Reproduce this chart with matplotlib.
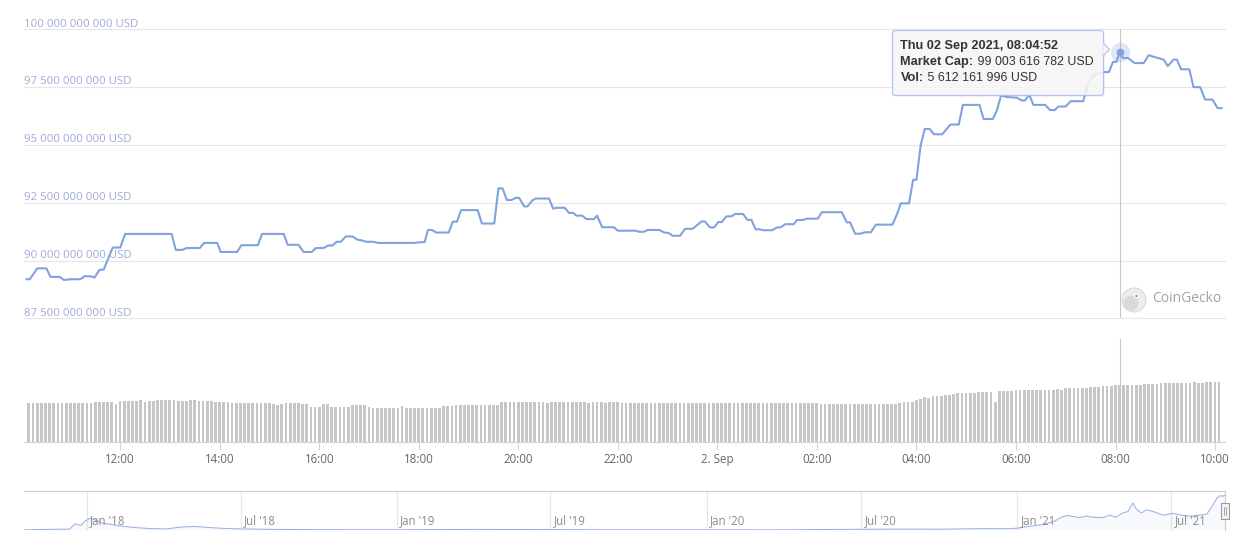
import matplotlib
matplotlib.use("Agg")
import matplotlib.pyplot as plt
import matplotlib.dates as mdates
from matplotlib.patches import FancyBboxPatch, Polygon, Rectangle, Circle
from datetime import datetime, timedelta
import pandas as pd

plt.rcParams['font.family'] = ['Open Sans', 'DejaVu Sans']

# market cap line (billions USD), "day HH:MM" in Sep 2021
cap_times = [
    "1 10:07", "1 10:11", "1 10:20", "1 10:31", "1 10:36", "1 10:47", "1 10:52", "1 11:01",
    "1 11:12", "1 11:17", "1 11:24", "1 11:29", "1 11:35", "1 11:40", "1 11:51", "1 12:00",
    "1 12:06", "1 13:02", "1 13:07", "1 13:15", "1 13:20", "1 13:36", "1 13:41", "1 13:57",
    "1 14:01", "1 14:21", "1 14:26", "1 14:46", "1 14:51", "1 15:17", "1 15:22", "1 15:35",
    "1 15:41", "1 15:51", "1 15:56", "1 16:05", "1 16:11", "1 16:16", "1 16:21", "1 16:26",
    "1 16:32", "1 16:40", "1 16:46", "1 16:51", "1 16:57", "1 17:05", "1 17:11", "1 17:54",
    "1 18:02", "1 18:07", "1 18:11", "1 18:16", "1 18:21", "1 18:36", "1 18:41", "1 18:46",
    "1 18:51", "1 19:11", "1 19:16", "1 19:31", "1 19:36", "1 19:41", "1 19:46", "1 19:52",
    "1 19:57", "1 20:01", "1 20:07", "1 20:11", "1 20:17", "1 20:21", "1 20:37", "1 20:42",
    "1 20:46", "1 20:56", "1 21:01", "1 21:06", "1 21:10", "1 21:17", "1 21:22", "1 21:31",
    "1 21:35", "1 21:41", "1 21:55", "1 22:00", "1 22:21", "1 22:26", "1 22:31", "1 22:36",
    "1 22:50", "1 22:56", "1 23:01", "1 23:06", "1 23:15", "1 23:21", "1 23:30", "1 23:41",
    "1 23:45", "1 23:51", "1 23:56", "2 00:01", "2 00:05", "2 00:11", "2 00:17", "2 00:21",
    "2 00:31", "2 00:36", "2 00:41", "2 00:46", "2 00:51", "2 00:55", "2 01:06", "2 01:12",
    "2 01:16", "2 01:22", "2 01:32", "2 01:36", "2 01:43", "2 01:48", "2 02:01", "2 02:06",
    "2 02:30", "2 02:36", "2 02:40", "2 02:46", "2 02:52", "2 02:58", "2 03:05", "2 03:11",
    "2 03:31", "2 03:37", "2 03:41", "2 03:51", "2 03:56", "2 04:00", "2 04:05", "2 04:10",
    "2 04:16", "2 04:21", "2 04:31", "2 04:41", "2 04:51", "2 04:56", "2 05:16", "2 05:21",
    "2 05:32", "2 05:37", "2 05:42", "2 05:49", "2 06:01", "2 06:07", "2 06:11", "2 06:16",
    "2 06:21", "2 06:35", "2 06:41", "2 06:47", "2 06:51", "2 07:00", "2 07:06", "2 07:21",
    "2 07:27", "2 07:33", "2 07:45", "2 07:52", "2 07:57", "2 08:01", "2 08:04:52", "2 08:09",
    "2 08:15", "2 08:23", "2 08:34", "2 08:40", "2 08:47", "2 08:58", "2 09:03", "2 09:10",
    "2 09:14", "2 09:19", "2 09:29", "2 09:34", "2 09:42", "2 09:48", "2 09:57", "2 10:03",
    "2 10:08",
]
cap_values = [
    89.19, 89.19, 89.66, 89.66, 89.29, 89.29, 89.16, 89.19,
    89.19, 89.32, 89.32, 89.26, 89.60, 89.60, 90.56, 90.56,
    91.15, 91.15, 90.46, 90.46, 90.54, 90.54, 90.76, 90.76,
    90.37, 90.37, 90.66, 90.66, 91.15, 91.15, 90.68, 90.68,
    90.37, 90.37, 90.54, 90.54, 90.65, 90.65, 90.81, 90.81,
    91.04, 91.04, 90.90, 90.87, 90.81, 90.81, 90.76, 90.76,
    90.79, 90.79, 91.32, 91.32, 91.21, 91.21, 91.68, 91.68,
    92.18, 92.18, 91.60, 91.60, 93.12, 93.12, 92.62, 92.62,
    92.71, 92.71, 92.34, 92.34, 92.60, 92.68, 92.68, 92.24,
    92.28, 92.28, 92.06, 92.06, 91.94, 91.94, 91.79, 91.79,
    91.94, 91.44, 91.44, 91.29, 91.29, 91.24, 91.24, 91.32,
    91.32, 91.21, 91.19, 91.07, 91.07, 91.37, 91.37, 91.69,
    91.69, 91.43, 91.43, 91.66, 91.66, 91.91, 91.91, 92.01,
    92.01, 91.76, 91.76, 91.35, 91.35, 91.31, 91.31, 91.43,
    91.43, 91.57, 91.57, 91.75, 91.75, 91.81, 91.81, 92.09,
    92.09, 91.65, 91.65, 91.16, 91.16, 91.22, 91.22, 91.55,
    91.55, 92.04, 92.47, 92.47, 93.49, 93.49, 94.97, 95.69,
    95.69, 95.46, 95.46, 95.88, 95.88, 96.73, 96.73, 96.12,
    96.12, 96.49, 97.14, 97.07, 97.04, 96.92, 96.92, 97.17,
    96.73, 96.73, 96.51, 96.51, 96.66, 96.66, 96.89, 96.89,
    97.64, 98.01, 98.15, 98.15, 98.59, 98.59, 99.0036, 98.76,
    98.76, 98.54, 98.54, 98.88, 98.80, 98.69, 98.41, 98.69,
    98.69, 98.27, 98.27, 97.50, 97.50, 96.96, 96.96, 96.59,
    96.59,
]

# volume bars (billions USD), one every 5 minutes
vol_start = "2021-09-01 10:09:52"
vol_values = [
    3.84, 3.84, 3.84, 3.84, 3.84, 3.84, 3.84, 3.84, 3.84, 3.84, 3.84, 3.84,
    3.84, 3.84, 3.84, 3.84, 3.91, 3.91, 3.91, 3.91, 3.91, 3.74, 4.04, 4.04,
    4.04, 4.04, 4.04, 4.14, 3.97, 4.04, 4.04, 4.14, 4.10, 4.14, 4.14, 4.14,
    4.04, 4.04, 4.04, 4.14, 4.10, 4.04, 4.04, 4.04, 4.04, 3.94, 3.94, 3.94,
    3.94, 3.84, 3.84, 3.84, 3.84, 3.84, 3.84, 3.84, 3.84, 3.84, 3.84, 3.74,
    3.67, 3.74, 3.84, 3.84, 3.84, 3.84, 3.77, 3.70, 3.45, 3.45, 3.45, 3.74,
    3.74, 3.45, 3.45, 3.45, 3.45, 3.45, 3.64, 3.64, 3.64, 3.64, 3.48, 3.35,
    3.35, 3.35, 3.35, 3.35, 3.35, 3.35, 3.55, 3.35, 3.35, 3.35, 3.35, 3.35,
    3.35, 3.35, 3.35, 3.35, 3.58, 3.58, 3.58, 3.68, 3.68, 3.68, 3.68, 3.68,
    3.68, 3.68, 3.68, 3.68, 3.68, 3.68, 3.90, 3.90, 3.90, 3.90, 3.90, 3.90,
    3.90, 3.90, 3.92, 3.90, 3.90, 3.88, 3.90, 3.90, 3.92, 3.90, 3.90, 3.90,
    3.90, 3.90, 3.90, 3.88, 3.90, 3.90, 3.90, 3.88, 3.90, 3.90, 3.90, 3.88,
    3.88, 3.86, 3.88, 3.88, 3.82, 3.86, 3.88, 3.88, 3.82, 3.80, 3.84, 3.86,
    3.80, 3.84, 3.86, 3.84, 3.80, 3.82, 3.80, 3.80, 3.84, 3.84, 3.80, 3.80,
    3.80, 3.82, 3.80, 3.80, 3.82, 3.80, 3.80, 3.80, 3.82, 3.80, 3.80, 3.80,
    3.80, 3.80, 3.80, 3.80, 3.80, 3.80, 3.80, 3.80, 3.80, 3.80, 3.80, 3.74,
    3.74, 3.74, 3.74, 3.74, 3.74, 3.74, 3.74, 3.74, 3.74, 3.74, 3.74, 3.74,
    3.74, 3.74, 3.74, 3.74, 3.74, 3.74, 3.84, 3.90, 3.97, 3.97, 4.14, 4.23,
    4.40, 4.30, 4.53, 4.53, 4.53, 4.63, 4.63, 4.76, 4.82, 4.82, 4.82, 4.82,
    4.82, 4.92, 4.92, 4.92, 4.92, 3.97, 5.02, 5.02, 5.02, 5.02, 5.12, 5.12,
    5.12, 5.12, 5.12, 5.12, 5.12, 5.12, 5.12, 5.12, 5.18, 5.12, 5.28, 5.28,
    5.28, 5.28, 5.28, 5.28, 5.38, 5.38, 5.45, 5.51, 5.51, 5.51, 5.61, 5.61,
    5.61, 5.61, 5.61, 5.61, 5.61, 5.71, 5.71, 5.71, 5.71, 5.81, 5.81, 5.81,
    5.81, 5.81, 5.81, 5.81, 5.81, 5.91, 5.81, 5.81, 5.91, 5.91, 5.91, 5.91,
]

# navigator: full market cap history (billions USD)
nav_dates = [
    "2017-10-19", "2017-11-27", "2017-12-12", "2017-12-18", "2017-12-25", "2017-12-30",
    "2018-01-05", "2018-01-10", "2018-01-19", "2018-02-07", "2018-02-26", "2018-03-16",
    "2018-04-04", "2018-04-23", "2018-05-08", "2018-05-22", "2018-06-09", "2018-07-03",
    "2018-08-13", "2018-10-01", "2019-01-01", "2019-04-01", "2019-06-25", "2019-10-01",
    "2020-01-01", "2020-03-15", "2020-06-01", "2020-08-15", "2020-10-01", "2020-11-25",
    "2020-12-20", "2021-01-01", "2021-01-13", "2021-01-28", "2021-02-13", "2021-02-21",
    "2021-02-28", "2021-03-08", "2021-03-15", "2021-03-23", "2021-03-31", "2021-04-12",
    "2021-04-20", "2021-04-27", "2021-05-05", "2021-05-11", "2021-05-17", "2021-05-21",
    "2021-05-27", "2021-06-02", "2021-06-10", "2021-06-18", "2021-06-23", "2021-07-03",
    "2021-07-15", "2021-07-23", "2021-08-04", "2021-08-12", "2021-08-16", "2021-08-20",
    "2021-08-24", "2021-08-28", "2021-08-31", "2021-09-02",
]
nav_values = [
    0.6, 2.0, 2.5, 17, 13, 25,
    33, 29, 20, 12, 7, 4,
    3, 8.5, 10, 7.5, 4.7, 3,
    1.5, 1.0, 0.8, 1.5, 1.2, 0.6,
    0.8, 0.4, 1.5, 2.5, 2.2, 4.0,
    3.5, 5, 10, 14, 24, 35,
    41, 38, 35, 39, 36, 35,
    42, 36, 48, 52, 76, 59,
    48, 57, 52, 45, 42, 47,
    41, 39, 42, 45, 59, 74,
    90, 97, 95, 99,
]

cap_ticks = [87.5, 90, 92.5, 95, 97.5, 100]
hour_ticks = ["1 12:00", "1 14:00", "1 16:00", "1 18:00", "1 20:00", "1 22:00",
              "2 00:00", "2 02:00", "2 04:00", "2 06:00", "2 08:00", "2 10:00"]

tip_time = "2 08:04:52"
tip_cap = 99003616782
tip_vol = 5612161996

W, H = 1240, 550
line_color = "#80a3dd"


def when(s):
    d, hm = s.split()
    return pd.Timestamp(f"2021-09-0{d} {hm}").to_pydatetime()


def rect(x0, y0, x1, y1):
    return [x0 / W, 1 - y1 / H, (x1 - x0) / W, (y1 - y0) / H]


def usd(v):
    return f"{v:,.0f}".replace(",", " ") + " USD"


cap_dt = [when(s) for s in cap_times]
vol_dt = [pd.Timestamp(vol_start).to_pydatetime() + timedelta(minutes=5 * i) for i in range(len(vol_values))]
x_left, x_right = when("1 10:04"), when("2 10:12")

fig = plt.figure(figsize=(W / 100, H / 100), dpi=100)

# main pane
ax = fig.add_axes(rect(24, 29.3, 1225, 318.3))
ax.plot(cap_dt, cap_values, color=line_color, lw=1.5, solid_joinstyle="round", zorder=3)
ax.set_xlim(x_left, x_right)
ax.set_ylim(87.5, 100)
ax.set_yticks(cap_ticks)
ax.yaxis.grid(True, color="#e6e6e6", lw=0.8)
for gl in ax.get_ygridlines():
    gl.set_clip_on(False)
ax.tick_params(left=False, bottom=False, labelleft=False, labelbottom=False)
for s in ax.spines.values():
    s.set_visible(False)
for v in cap_ticks:
    ax.annotate(usd(v * 1e9), xy=(0, v), xycoords=("axes fraction", "data"),
                xytext=(0, 2), textcoords="offset points", ha="left", va="baseline",
                fontsize=8.2, color="#9ea9d8")

tip_dt = when(tip_time)
ax.axvline(tip_dt, color="#c8c8c8", lw=0.8, zorder=2)
ax.plot([tip_dt], [tip_cap / 1e9], "o", ms=14, color=line_color, alpha=0.25, mew=0, zorder=4, clip_on=False)
ax.plot([tip_dt], [tip_cap / 1e9], "o", ms=5.5, color=line_color, mew=0, zorder=5, clip_on=False)

# volume pane
axv = fig.add_axes(rect(24, 339, 1225, 442))
axv.bar(vol_dt, vol_values, width=3.3 / 1440, color="#c6c6c6", lw=0, zorder=2)
axv.axvline(tip_dt, color="#c8c8c8", lw=0.8, zorder=1)
axv.set_xlim(x_left, x_right)
axv.set_ylim(0, 10.14)
for k, s in axv.spines.items():
    s.set_visible(k == "bottom")
axv.spines["bottom"].set_color("#ccd6eb")
axv.set_yticks([])
axv.set_xticks([when(s) for s in hour_ticks])
axv.set_xticklabels(["2. Sep" if s.endswith("00:00") else s.split()[1] for s in hour_ticks])
axv.tick_params(axis="x", color="#ccd6eb", length=6, width=0.8, pad=2, labelsize=8.3, labelcolor="#666666")

# navigator
axn = fig.add_axes(rect(24, 491, 1225, 530))
nav_dt = [pd.Timestamp(d).to_pydatetime() for d in nav_dates]
axn.fill_between(nav_dt, nav_values, 0, color=line_color, alpha=0.06, lw=0)
axn.plot(nav_dt, nav_values, color="#9db6e6", lw=0.8)
axn.set_xlim(datetime(2017, 10, 19), x_right)
axn.set_ylim(0, 110)
for k, s in axn.spines.items():
    s.set_visible(k in ("top", "right"))
    s.set_color("#cccccc")
axn.set_xticks([])
axn.set_yticks([])
for yr in range(2018, 2022):
    for mon, name in ((1, "Jan"), (7, "Jul")):
        d = datetime(yr, mon, 1)
        axn.axvline(d, color="#e6e6e6", lw=0.8, zorder=0)
        axn.annotate(f"{name} '{yr % 100:02d}", xy=(d, 0.23), xycoords=("data", "axes fraction"),
                     xytext=(2.5, 0), textcoords="offset points", ha="left", va="center",
                     fontsize=8.3, color="#8c8c8c")

# overlay in pixel units for tooltip, watermark, handle
ov = fig.add_axes([0, 0, 1, 1])
ov.set_xlim(0, W)
ov.set_ylim(H, 0)
ov.axis("off")
ov.set_zorder(10)

ov.add_patch(FancyBboxPatch((893.5, 31.5), 211, 65, boxstyle="round,pad=0,rounding_size=3",
                            fc="black", ec="none", alpha=0.06))
ov.add_patch(FancyBboxPatch((892.5, 30.5), 211, 65, boxstyle="round,pad=0,rounding_size=3",
                            fc="#f7f7f7", ec="#a6bfea", lw=0.9, alpha=0.88))
ov.add_patch(Polygon([(1103.1, 43), (1109.5, 49.5), (1103.1, 56)], closed=False,
                     fc="#f7f7f7", ec="#a6bfea", lw=0.9, alpha=0.88))

tip_font = ["Liberation Sans", "DejaVu Sans"]
bold_font = dict(family=tip_font, fontweight="bold", fontsize=9.2, color="#333333")
ov.text(900.5, 45.7, pd.Timestamp(tip_dt).strftime("%a %d %b %Y, %H:%M:%S"),
        va="center", ha="left", **bold_font)
for yy, head, val in ((62.3, "Market Cap:", tip_cap), (78.3, "Vol:", tip_vol)):
    t = ov.text(900.5, yy, head, va="center", ha="left", **bold_font)
    ov.annotate(" " + usd(val), xy=(1, 0), xycoords=t, ha="left", va="bottom",
                family=tip_font, fontsize=8.9, color="#333333")

# CoinGecko watermark
ov.add_patch(Circle((1134, 300), 12, fc="#ececec", ec="#dddddd", lw=0.8))
ov.add_patch(Circle((1131, 303), 7.5, fc="#d9d9d9", ec="none"))
ov.add_patch(Circle((1136, 296), 2.6, fc="white", ec="none"))
ov.add_patch(Circle((1136.4, 296), 1.2, fc="#8a8a8a", ec="none"))
ov.text(1152, 299, "CoinGecko", fontsize=10, color="#a2a2a2", va="center", ha="left")

# navigator handle
ov.add_patch(Rectangle((1220.5, 502.5), 8, 16, fc="#f2f2f2", ec="#999999", lw=0.75))
for hx in (1223.5, 1225.5):
    ov.plot([hx, hx], [506.5, 514.5], color="#999999", lw=0.6)

fig.savefig("out.png", dpi=100)
